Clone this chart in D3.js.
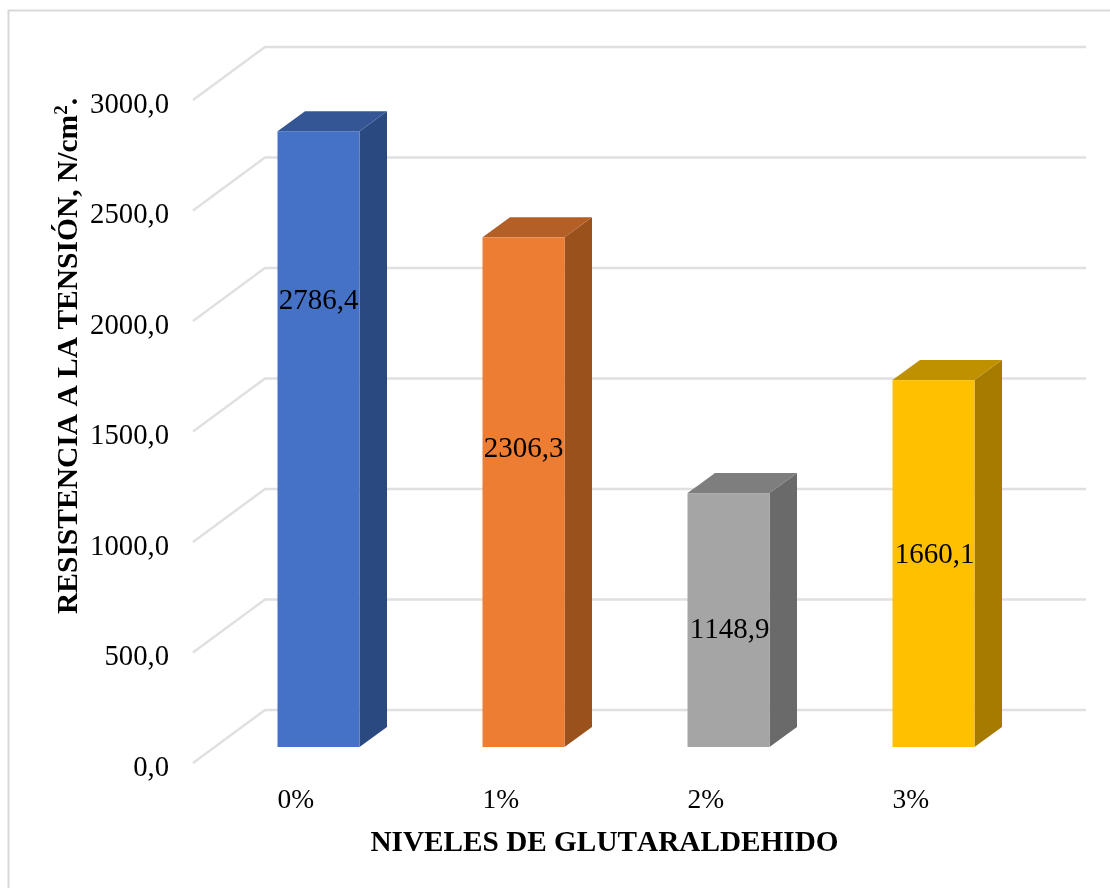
<!DOCTYPE html>
<html><head><meta charset="utf-8">
<script src="https://d3js.org/d3.v7.min.js"></script>
<style>html,body{margin:0;background:#fff}svg{display:block}text{font-family:"Liberation Serif",serif;fill:#000;font-kerning:none}</style>
</head><body><svg id="c" width="1110" height="888"></svg>
<script>
const categories=["0%","1%","2%","3%"];
const values=[2786.4,2306.3,1148.9,1660.1];
const valueLabels=["2786,4","2306,3","1148,9","1660,1"];
const labelFractions=[0.727,0.588,0.47,0.53];
const frontColors=["#4472C4","#ED7D31","#A5A5A5","#FFC000"];
const sideColors=["#2C4A80","#9A511F","#6B6B6B","#A67C00"];
const topColors=["#345695","#B35E25","#7E7E7E","#BF9000"];
const yTicks=[0,500,1000,1500,2000,2500,3000];
const yTitleMain="RESISTENCIA A LA TENSIÓN, N/cm";
const xTitle="NIVELES DE GLUTARALDEHIDO";

const svg=d3.select("#c");
const defs=svg.append("defs");
defs.append("filter").attr("id","soft").append("feGaussianBlur").attr("stdDeviation",0.5);
svg.append("path").attr("d","M1110,10.5H8.5V888").attr("fill","none").attr("stroke","#d9d9d9").attr("stroke-width",2);

const plot=svg.append("g").attr("filter","url(#soft)");
const y=d3.scaleLinear().domain([0,3000]).range([763,100]);
const x=d3.scaleBand().domain(categories).range([277.5,974.5]).paddingInner(0.6);
const backDx=72,backDy=53,barDx=27.5,barDy=20,barFloor=16;

const grid=plot.append("g");
yTicks.forEach(t=>{
  grid.append("path").attr("fill","none").attr("stroke","#e0e0e0").attr("stroke-width",2.4)
    .attr("d",d3.line()([[193,y(t)],[193+backDx,y(t)-backDy],[1086,y(t)-backDy]]));
});

const axis=d3.axisLeft(y).tickValues(yTicks).tickSize(0).tickPadding(0).tickFormat(d=>d3.format(".1f")(d).replace(".",","));
const ag=plot.append("g").attr("transform","translate(169,3)").call(axis);
ag.select(".domain").remove();
ag.selectAll("text").attr("font-size",28.7).attr("dy","0.32em").style("font-family",'"Liberation Serif",serif');

const bars=plot.selectAll("g.bar").data(values).join("g").attr("class","bar");
const w=x.bandwidth();
const barBase=y(0)-barFloor;
bars.append("path").attr("fill",(d,i)=>sideColors[i]).attr("d",(d,i)=>{
  const X=x(categories[i])+w,T=y(d)-barFloor;
  return d3.line()([[X,T],[X+barDx,T-barDy],[X+barDx,barBase-barDy],[X,barBase]])+"Z";
});
bars.append("path").attr("fill",(d,i)=>topColors[i]).attr("d",(d,i)=>{
  const X=x(categories[i]),T=y(d)-barFloor;
  return d3.line()([[X,T],[X+barDx,T-barDy],[X+w+barDx,T-barDy],[X+w,T]])+"Z";
});
bars.append("rect").attr("fill",(d,i)=>frontColors[i])
  .attr("x",(d,i)=>x(categories[i])).attr("width",w)
  .attr("y",d=>y(d)-barFloor).attr("height",d=>barBase-(y(d)-barFloor));
bars.append("text").attr("font-size",29).attr("text-anchor","middle")
  .attr("x",(d,i)=>x(categories[i])+w/2+(i>1?1:0))
  .attr("y",(d,i)=>y(d*labelFractions[i])-barFloor+10)
  .text((d,i)=>valueLabels[i]);

plot.selectAll("text.cat").data(categories).join("text").attr("class","cat")
  .attr("x",d=>x(d)).attr("y",807.5).attr("font-size",27.5).text(d=>d);
plot.append("text").attr("x",604.5).attr("y",851).attr("text-anchor","middle")
  .attr("font-size",29.25).attr("font-weight","bold").text(xTitle);
const yt=plot.append("text").attr("transform","translate(77,356) rotate(-90)").attr("text-anchor","middle")
  .attr("font-size",29.5).attr("font-weight","bold");
yt.append("tspan").text(yTitleMain);
yt.append("tspan").attr("font-size",19).attr("dy",-10).text("2");
yt.append("tspan").attr("dy",10).text(".");
</script></body></html>
